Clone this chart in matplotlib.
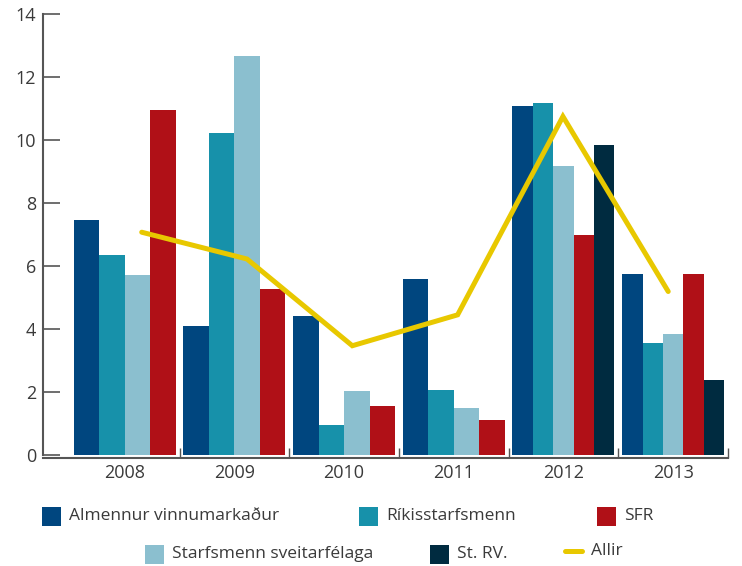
import numpy as np
import matplotlib
matplotlib.use("Agg")
import matplotlib.pyplot as plt
from matplotlib.patches import Rectangle
from matplotlib.lines import Line2D

plt.rcParams['font.family'] = ['Open Sans', 'DejaVu Sans']

years = ['2008', '2009', '2010', '2011', '2012', '2013']
almennur = [7.47, 4.11, 4.43, 5.60, 11.09, 5.75]
rikis = [6.35, 10.24, 0.98, 2.09, 11.19, 3.57]
sveit = [5.72, 12.67, 2.05, 1.49, 9.17, 3.86]
sfr = [10.94, 5.28, 1.58, 1.14, 6.98, 5.75]
strv = [np.nan, np.nan, np.nan, np.nan, 9.83, 2.40]
allir = [7.08, 6.23, 3.48, 4.46, 10.75, 5.20]

series = [
    ('Almennur vinnumarkaður', almennur, '#00467f'),
    ('Ríkisstarfsmenn', rikis, '#1791aa'),
    ('Starfsmenn sveitarfélaga', sveit, '#8bbfcf'),
    ('SFR', sfr, '#b01017'),
    ('St. RV.', strv, '#002b40'),
]
line_color = '#e8c800'
txt = '#3a3a3a'

fig = plt.figure(figsize=(7.42, 5.66), dpi=100)
ax = fig.add_axes([43/742, 1-458/566, (728-43)/742, 444/566])

# bars packed left to right inside each year
for i in range(len(years)):
    present = [(c, s[i]) for _, s, c in series if not np.isnan(s[i])]
    w = 0.93 / len(present)
    for k, (c, v) in enumerate(present):
        ax.bar(i + 0.035 + k*w, v, width=w, align='edge', color=c, linewidth=0)

xl = 0.655 + 0.96*np.arange(len(years))
ax.plot(xl, allir, color=line_color, lw=3.6, solid_capstyle='round', solid_joinstyle='miter')

ax.set_xlim(-0.245, 5.985)
ax.set_ylim(-0.08, 14)
ax.set_yticks(range(0, 15, 2))
ax.set_xticks(np.arange(len(years)) + 0.5)
ax.set_xticklabels(years)
ax.set_xticks(np.arange(1, 7), minor=True)
ax.tick_params(axis='x', which='major', length=0, labelsize=13, colors=txt, pad=4)
ax.tick_params(axis='x', which='minor', direction='in', length=7, width=1, color='#555555')
ax.tick_params(axis='y', direction='in', length=12, width=1.2, color='#555555', labelsize=13, labelcolor=txt, pad=5)
for s in ['top', 'right']:
    ax.spines[s].set_visible(False)
for s in ['left', 'bottom']:
    ax.spines[s].set_color('#555555')
    ax.spines[s].set_linewidth(1.5)
ax.spines['left'].set_bounds(0, 14)

# legend drawn by hand to keep the original layout
leg = [
    (0, 42, 516), (1, 359, 516), (3, 597, 516),
    (2, 145, 554), (4, 430, 554),
]
for idx, px, py in leg:
    name, _, c = series[idx]
    fig.patches.append(Rectangle((px/742, 1-(py+9.5)/566), 19/742, 19/566,
                                 transform=fig.transFigure, color=c, lw=0))
    fig.text((px+27)/742, 1-py/566, name, fontsize=12.5, color=txt, va='center')
fig.lines.append(Line2D([565/742, 582/742], [1-551/566, 1-551/566], transform=fig.transFigure,
                        color=line_color, lw=3.6, solid_capstyle='round'))
fig.text(591/742, 1-551/566, 'Allir', fontsize=12.5, color=txt, va='center')

fig.savefig('out.png', dpi=100)
